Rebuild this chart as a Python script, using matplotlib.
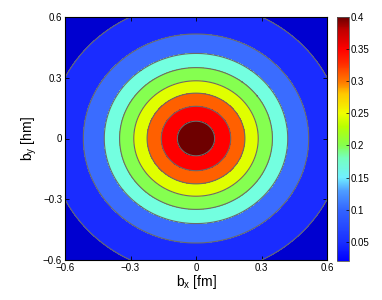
import numpy as np
import matplotlib
matplotlib.use("Agg")
import matplotlib.pyplot as plt
from matplotlib.colors import LinearSegmentedColormap, Normalize
import matplotlib.cm as cm

plt.rcParams['font.family'] = ['Liberation Sans', 'DejaVu Sans']
plt.rcParams['mathtext.default'] = 'regular'

# Radial profile (radius in data units, value)
profile_r = [0.0, 0.0857, 0.159, 0.224, 0.285, 0.350, 0.420, 0.516, 0.671, 0.86]
profile_v = [0.42, 0.40, 0.35, 0.30, 0.25, 0.20, 0.15, 0.10, 0.05, 0.02]

levels = [0.0, 0.05, 0.10, 0.15, 0.20, 0.25, 0.30, 0.35, 0.40, 0.5]
band_colors = ['#0000d0', '#1a2cff', '#3a6cff', '#73ffe0', '#85ff50',
               '#e0ff00', '#ff6000', '#ff0000', '#6e0000']

cbar_vals = [0.02, 0.05, 0.10, 0.13, 0.15, 0.18, 0.20, 0.23, 0.25, 0.28, 0.30, 0.33, 0.35, 0.38, 0.40]
cbar_cols = ['#0000ff', '#1a30ff', '#3366ff', '#50a0ff', '#70f0ff', '#75ffc0', '#85ff50',
             '#b8ff00', '#f0ff00', '#ffc800', '#ff7800', '#ff2800', '#ff0000', '#c00000', '#6e0000']

xticks = [-0.6, -0.3, 0, 0.3, 0.6]
yticks = [-0.6, -0.3, 0, 0.3, 0.6]
cticks = [0.05, 0.1, 0.15, 0.2, 0.25, 0.3, 0.35, 0.4]

fig = plt.figure(figsize=(3.82, 3.0), dpi=100)
ax = fig.add_axes([65/382, 40/300, 262/382, 243/300])

x = np.linspace(-0.6, 0.6, 601)
X, Y = np.meshgrid(x, x)
R = np.sqrt(X**2 + Y**2)
Z = np.interp(R, profile_r, profile_v)

ax.contourf(X, Y, Z, levels=levels, colors=band_colors)
ax.contour(X, Y, Z, levels=levels[1:-1], colors='#6a6a6a', linewidths=0.8)

ax.set_xlim(-0.6, 0.6)
ax.set_ylim(-0.6, 0.6)
ax.set_xticks(xticks)
ax.set_yticks(yticks)
ax.set_xticklabels(['\u22120.6', '\u22120.3', '0', '0.3', '0.6'])
ax.set_yticklabels(['\u22120.6', '\u22120.3', '0', '0.3', '0.6'])
ax.tick_params(direction='in', length=3, width=0.6, labelsize=7, top=True, right=True, pad=2)
for s in ax.spines.values():
    s.set_linewidth(0.8)
ax.set_xlabel('b$_x$ [fm]', fontsize=10, labelpad=0)
ax.set_ylabel('b$_y$ [hm]', fontsize=10, labelpad=3)

cax = fig.add_axes([337/382, 39/300, 12/382, 244/300])
cmap_bar = LinearSegmentedColormap.from_list(
    'bar', [((v - cbar_vals[0]) / (cbar_vals[-1] - cbar_vals[0]), c) for v, c in zip(cbar_vals, cbar_cols)], N=256)
sm = cm.ScalarMappable(norm=Normalize(vmin=cbar_vals[0], vmax=cbar_vals[-1]), cmap=cmap_bar)
cb = fig.colorbar(sm, cax=cax, ticks=cticks)
cb.ax.set_yticklabels(['0.05', '0.1', '0.15', '0.2', '0.25', '0.3', '0.35', '0.4'])
cb.ax.tick_params(direction='in', length=2, width=0.5, labelsize=7, pad=1)
cb.outline.set_linewidth(0.6)
cb.outline.set_edgecolor('#555555')

fig.savefig('out.png', dpi=100)
